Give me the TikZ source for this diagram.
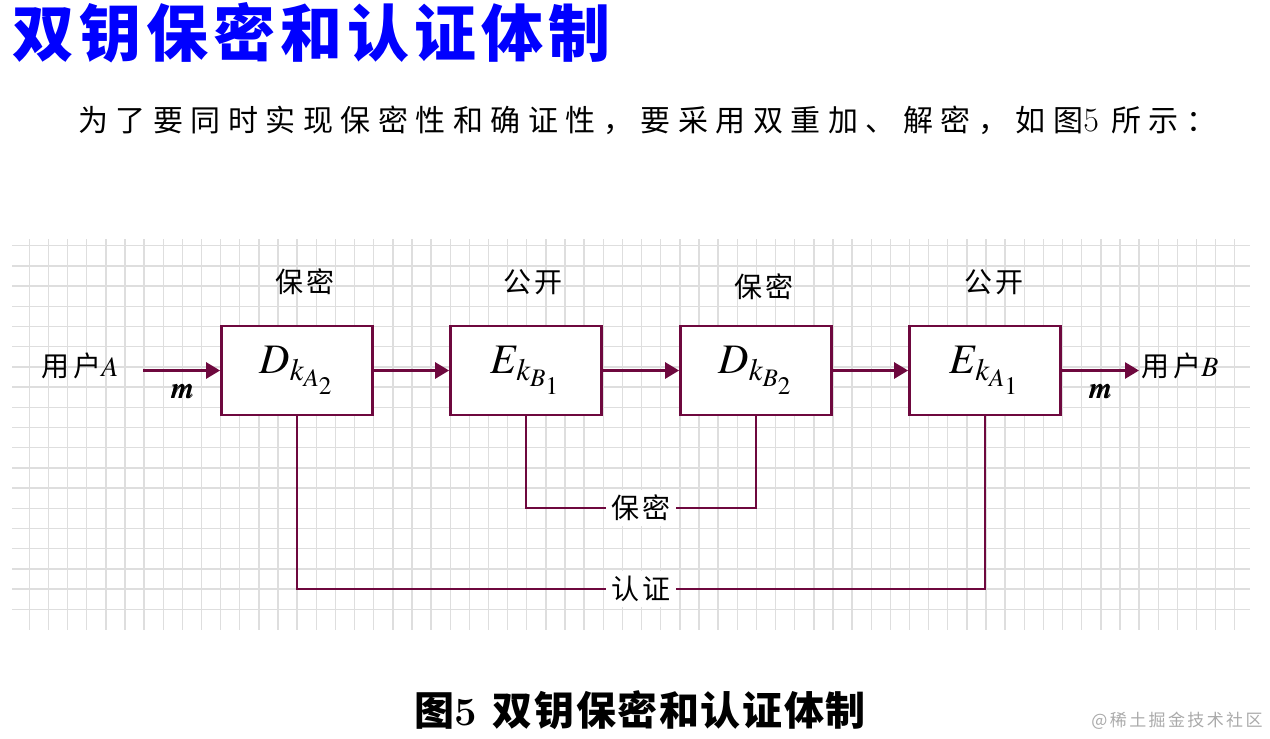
\documentclass[tikz,border=0pt]{standalone}
\usepackage{amsmath,amssymb}
\usepackage{mathptmx}
\usepackage{bm}
\usepackage{fontspec}
\usepackage{tikz}
\usetikzlibrary{arrows.meta}
\newfontfamily\cjkhead{Noto Sans CJK SC}[LetterSpace=8]
\newfontfamily\cjktext{Noto Sans CJK SC}[LetterSpace=25]
\newfontfamily\cjk{Noto Sans CJK SC}[LetterSpace=14]
\newfontfamily\cjkcap{Noto Sans CJK SC}[LetterSpace=4]
\definecolor{keyWine}{RGB}{110,8,62}
\definecolor{keyBlue}{RGB}{0,0,255}
\definecolor{keyGrid}{RGB}{222,222,222}
\definecolor{keyMark}{RGB}{170,170,170}

\begin{document}
\begin{tikzpicture}[x=0.5pt,y=-0.5pt,
  cipher/.style={draw=keyWine, line width=1.4pt, fill=white, minimum width=75.5pt, minimum height=44.5pt, inner sep=0pt, font=\fontsize{21}{24}\selectfont},
  flowline/.style={keyWine, line width=1.4pt, -{Triangle[length=7pt,width=8pt]}},
  keyline/.style={keyWine, line width=1.2pt},
  tag/.style={font=\fontsize{14}{16}\selectfont\cjk, inner sep=1pt},
  keytag/.style={tag, fill=white, inner sep=2.5pt}]
\useasboundingbox (0,0) rectangle (1270,739);

\foreach \i in {0,...,63}{
  \pgfmathsetmacro{\gx}{29.3+19.134*\i}
  \draw[keyGrid, line width=0.7pt] (\gx,239)--(\gx,630);
}
\foreach \j in {0,...,18}{
  \pgfmathsetmacro{\gy}{245.7+20.2*\j}
  \draw[keyGrid, line width=0.7pt] (12,\gy)--(1250,\gy);
}

\node[anchor=west, text=keyBlue, inner sep=0pt, font=\fontsize{31}{36}\selectfont\bfseries\cjkhead] (title) at (12,33) {双钥保密和认证体制};
\node[anchor=west, inner sep=0pt, font=\fontsize{15}{18}\selectfont\cjktext] (intro) at (78,120) {为了要同时实现保密性和确证性，要采用双重加、解密，如图{\rmfamily\fontsize{17}{18}\selectfont 5}\hspace{6pt}所示：};

\node[cipher] (dA) at (297,370.5) {$D_{k_{A_2}}$};
\node[cipher] (eB) at (526,370.5) {$E_{k_{B_1}}$};
\node[cipher] (dB) at (756,370.5) {$D_{k_{B_2}}$};
\node[cipher] (eA) at (985,370.5) {$E_{k_{A_1}}$};

\node[tag] (tA) at (305,282) {保密};
\node[tag] (tB) at (533,282) {公开};
\node[tag] (tC) at (764,287) {保密};
\node[tag] (tD) at (994,282) {公开};

\node[tag] (userA) at (80,366) {用户$A$};
\node[tag, anchor=west] (userB) at (1139,366) {用户$B$};
\coordinate (inA) at (143,370.5);
\node[font=\fontsize{15}{16}\selectfont] (mA) at (182,392) {$\bm{m}$};
\node[font=\fontsize{15}{16}\selectfont] (mB) at (1100,392) {$\bm{m}$};

\draw[flowline] (inA) -- (dA.west);
\draw[flowline] (dA.east) -- (eB.west);
\draw[flowline] (eB.east) -- (dB.west);
\draw[flowline] (dB.east) -- (eA.west);
\draw[flowline] (eA.east) -- (eA.east -| userB.west);

\node[keytag] (conf) at (641,508) {保密};
\node[keytag] (auth) at (641,589) {认证};
\draw[keyline] (eB.south) |- (conf.west);
\draw[keyline] (conf.east) -| (dB.south);
\draw[keyline] (dA.south) |- (auth.west);
\draw[keyline] (auth.east) -| (eA.south);

\node[inner sep=0pt, font=\fontsize{20}{22}\selectfont\bfseries\cjkcap] (caption) at (640,710) {图{\rmfamily\bfseries 5}\hspace{8pt}双钥保密和认证体制};
\node[anchor=east, inner sep=0pt, text=keyMark, font=\fontsize{8.5}{10}\selectfont\cjk] (mark) at (1263,721) {@稀土掘金技术社区};
\end{tikzpicture}
\end{document}
